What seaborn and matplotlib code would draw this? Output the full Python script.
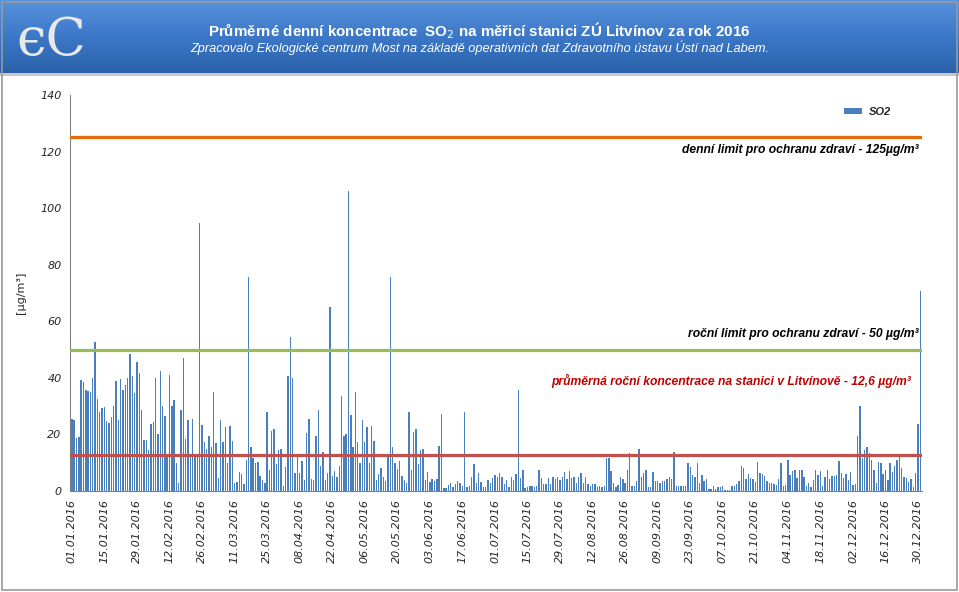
import matplotlib
matplotlib.use("Agg")
import matplotlib.pyplot as plt
import numpy as np
import pandas as pd
import seaborn as sns
from matplotlib.colors import LinearSegmentedColormap
from matplotlib.patches import Rectangle

# Daily mean SO2 values (ug/m3), month by month
jan = [25.6, 25, 18.6, 19, 39.4, 38.6, 35.6, 35.4, 35, 40, 52.7, 32.7, 28, 29.5, 29.8, 24.8,
       24, 26, 30, 39, 25, 39.5, 35.6, 37.4, 40, 48.6, 40.6, 34.5, 45.6, 41.8, 28.8]
feb = [18, 18, 14.5, 23.6, 24.4, 40, 20, 42.5, 30, 26.5, 12, 41, 30, 32, 10, 3, 28.5, 47,
       18.5, 25, 13, 25.4, 13, 13, 94.7, 23.3, 17.4, 14.7, 19.4]
mar = [15.6, 35, 17, 4.5, 25, 17.3, 22.7, 10, 23, 17.6, 2.7, 3.3, 6.6, 6, 2.5, 11, 75.6,
       15.6, 11.8, 9.8, 10.4, 5.3, 3.9, 3, 27.8, 7.4, 21.3, 21.8, 9.5, 14.5, 14.8]
apr = [1.9, 8.6, 40.6, 54.5, 40, 6.5, 12, 6.2, 10.6, 3.9, 20.4, 25.3, 4.2, 4, 19.4, 28.6,
       9, 13.9, 4, 6.2, 65, 5.3, 7.2, 4.8, 9, 33.5, 19.4, 20, 106, 27]
may = [15.6, 35, 17.4, 10, 25, 17.4, 22.5, 10, 23, 17.6, 4, 6, 8, 5, 3.5, 12, 75.6, 15.6,
       9.8, 7.9, 10.6, 5.3, 3.9, 3, 28, 7.4, 21, 22, 9.5, 14.5, 15]
jun = [3.9, 6.7, 3.3, 4.2, 3.5, 4.2, 16, 27.3, 1, 1, 2.2, 2.7, 1.4, 2.5, 3.6, 2.7, 1.9,
       27.8, 1.4, 1.9, 5, 9.4, 3, 6.2, 3.3, 1.5, 1.5, 3.9, 3, 4.5]
jul = [5.6, 5, 6.2, 4.8, 2.4, 3.9, 1.3, 5, 3.9, 6, 35.6, 4.5, 7.4, 0.9, 1.3, 1.9, 1.9, 1.5,
       1.9, 7.6, 4.5, 2.5, 2.5, 4.5, 2.5, 5, 4.2, 4.8, 3.9, 5, 6.8]
aug = [4.2, 7.2, 4.5, 5, 2.7, 4.8, 6.2, 2.7, 5, 2.5, 1.8, 2.5, 2.5, 1.3, 1.9, 1.3, 1.8,
       11.5, 11.5, 7, 2.7, 1.3, 2.1, 4.8, 4.1, 2.9, 7.6, 13.6, 1.9, 1.8, 3.5]
sep = [14.7, 4.8, 6.2, 7.6, 1.3, 1.3, 6.6, 3.6, 3.6, 2.9, 3.5, 3.6, 4.2, 4.8, 4.1, 13.9,
       1.8, 1.8, 1.8, 1.8, 1.8, 10, 8.6, 5.6, 5, 10, 2.7, 5.6, 3.5, 4.2]
oct_ = [0.6, 0.6, 1.8, 0.6, 1.5, 1.5, 1.8, 0.5, 0.3, 0.3, 1.8, 1.8, 2.5, 3.5, 8.8, 8, 4.2,
        6, 4.5, 4.1, 3.3, 10.4, 6.2, 5.9, 5.4, 3.5, 3, 2.7, 2.5, 2, 4.1]
nov = [10, 1.8, 2, 10.9, 5.6, 7.2, 7.4, 4.5, 7.6, 7.4, 5, 1.8, 2.7, 1.5, 3.9, 7.4, 5.6,
       7.2, 1.8, 4.8, 7.6, 4.2, 5.3, 5.3, 5.5, 10.7, 6.2, 4.5, 6, 3.9]
dec = [6.6, 2.1, 2.4, 19.5, 30, 11.5, 14.5, 15.4, 13.5, 11, 7.4, 2.7, 10.4, 9.8, 6, 7.4,
       3.9, 9.8, 6.8, 8.9, 11, 12.1, 8, 5, 4.5, 3.3, 4.2, 1.5, 6.2, 23.6, 70.7]

limit_day = 125
limit_year = 50
mean_year = 12.6

so2 = jan + feb + mar + apr + may + jun + jul + aug + sep + oct_ + nov + dec
dates = pd.date_range("2016-01-01", periods=len(so2), freq="D")
df = pd.DataFrame({"day": np.arange(len(so2)), "SO2": so2})

sns.set_style("white")
plt.rcParams["font.family"] = ["DejaVu Sans"]

W, H = 959, 592
fig = plt.figure(figsize=(W / 100, H / 100), dpi=100)

# blue header band with gradient
hdr = fig.add_axes([0, 1 - 73 / H, 1, 73 / H])
grad = np.linspace(0, 1, 200).reshape(-1, 1)
cmap = LinearSegmentedColormap.from_list("hdr", ["#5793dc", "#3c78c8", "#2b61a9"])
hdr.imshow(grad, aspect="auto", cmap=cmap, extent=[0, 1, 0, 1])
hdr.set_xlim(0, 1)
hdr.set_ylim(0, 1)
hdr.axis("off")
fig.add_artist(Rectangle((0, 1 - 76 / H), 1, 3 / H, transform=fig.transFigure,
                         color="#c8c8c8", lw=0))

# logo
fig.text(16 / W, 1 - 40 / H, "ϵC", fontsize=38, color="#e8e8e8", family="DejaVu Serif",
         va="center", ha="left")

fig.text(0.5, 1 - 31 / H,
         "Průměrné denní koncentrace  SO$_2$ na měřicí stanici ZÚ Litvínov za rok 2016",
         ha="center", va="center", color="white", fontsize=10.9, fontweight="bold",
         family="Liberation Sans")
fig.text(0.5, 1 - 48 / H,
         "Zpracovalo Ekologické centrum Most na základě operativních dat Zdravotního ústavu Ústí nad Labem.",
         ha="center", va="center", color="white", fontsize=9.2, style="italic",
         family="Liberation Sans")

# main chart
ax = fig.add_axes([70 / W, 1 - 491 / H, 852 / W, 396 / H])
sns.barplot(data=df, x="day", y="SO2", native_scale=True, color="#4a7fbd",
            saturation=1, width=0.6, errorbar=None, linewidth=0, label="SO2", ax=ax)

ax.axhline(limit_day, color="#E46C0A", lw=2.3, zorder=3)
ax.axhline(limit_year, color="#9BBB59", lw=2.3, zorder=3)
ax.axhline(mean_year, color="#C0504D", lw=2.3, zorder=3)

lbl = dict(ha="right", va="center", fontsize=8.7, fontweight="bold", style="italic",
           family="Liberation Sans")
ax.text(364, 120.5, "denní limit pro ochranu zdraví - 125µg/m³", color="black", **lbl)
ax.text(364, 55.5, "roční limit pro ochranu zdraví - 50 µg/m³", color="black", **lbl)
ax.text(361, 38.9, "průměrná roční koncentrace na stanici v Litvínově - 12,6 µg/m³",
        color="#C00000", **lbl)

ax.set_xlim(-0.8, len(so2) - 0.3)
ax.set_ylim(0, 140)
ax.set_yticks(range(0, 141, 20))
ticks = np.arange(0, len(so2), 14)
ax.set_xticks(ticks)
ax.set_xticklabels(dates[ticks].strftime("%d.%m.%Y"), rotation=90)
for t in ax.get_xticklabels() + ax.get_yticklabels():
    t.set_fontstyle("italic")
    t.set_fontsize(8)
ax.tick_params(axis="both", direction="out", length=4, width=0.8, color="#808080", pad=2)
ax.set_xlabel("")
ax.set_ylabel("[µg/m³]", fontsize=8, labelpad=10)

sns.despine(ax=ax)
for side in ["left", "bottom"]:
    ax.spines[side].set_color("#808080")
    ax.spines[side].set_linewidth(0.8)

leg = ax.legend(loc="upper right", bbox_to_anchor=(0.975, 0.995), frameon=False,
                handlelength=1.6, handleheight=0.5, handletextpad=0.6,
                prop={"size": 8, "weight": "bold", "style": "italic",
                      "family": "Liberation Sans"})

# outer frame
fig.add_artist(Rectangle((1.5 / W, 2.5 / H), 1 - 3.5 / W, 1 - 4 / H,
                         transform=fig.transFigure, fill=False, ec="#9a9a9a", lw=1.2))

fig.savefig("out.png", dpi=100)
